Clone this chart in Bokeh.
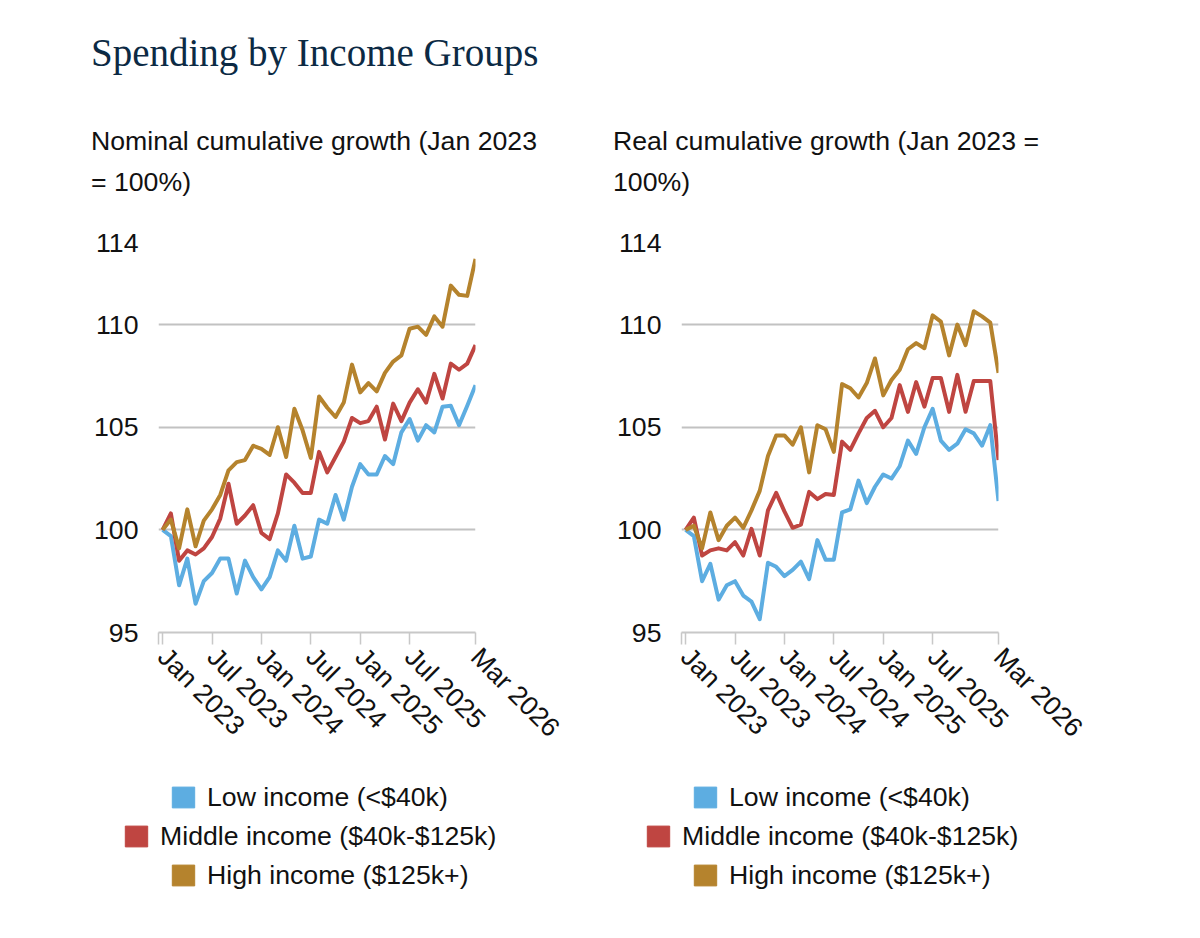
import math
from bokeh.plotting import figure
from bokeh.models import ColumnDataSource, FixedTicker, Legend, LegendItem, Range1d, Title, Spacer
from bokeh.layouts import row, column
from bokeh.embed import file_html
from bokeh.resources import INLINE

# ---------------- data ----------------
x_ticks = [0, 6, 12, 18, 24, 30, 38]
x_tick_labels = ["Jan 2023", "Jul 2023", "Jan 2024", "Jul 2024", "Jan 2025", "Jul 2025", "Mar 2026"]
y_ticks = [95, 100, 105, 110, 114]

series_names = ["Low income (<$40k)", "Middle income ($40k-$125k)", "High income ($125k+)"]
series_colors = ["#5DADE1", "#BF4541", "#B5832D"]

nominal_low = [100.0, 99.7, 97.3, 98.6, 96.4, 97.5, 97.9, 98.6, 98.6, 96.9, 98.5, 97.7, 97.1,
               97.7, 99.0, 98.5, 100.2, 98.6, 98.7, 100.5, 100.3, 101.7, 100.5, 102.1, 103.2,
               102.7, 102.7, 103.6, 103.2, 104.75, 105.4, 104.35, 105.1, 104.75, 106.0, 106.05,
               105.1, 106.05, 107.05]
nominal_mid = [100.0, 100.8, 98.5, 99.0, 98.8, 99.1, 99.65, 100.55, 102.25, 100.3, 100.7, 101.2,
               99.85, 99.55, 100.8, 102.7, 102.3, 101.8, 101.8, 103.8, 102.8, 103.55, 104.3, 105.45,
               105.2, 105.3, 106.0, 104.4, 106.15, 105.3, 106.2, 106.85, 106.2, 107.6, 106.4, 108.1,
               107.8, 108.1, 109.0]
nominal_high = [100.0, 100.5, 99.1, 101.0, 99.2, 100.45, 101.0, 101.7, 102.9, 103.3, 103.4, 104.1,
                103.95, 103.65, 105.0, 103.55, 105.9, 104.85, 103.5, 106.5, 105.95, 105.5, 106.2,
                108.05, 106.7, 107.15, 106.75, 107.65, 108.2, 108.5, 109.8, 109.9, 109.5, 110.4,
                109.9, 111.9, 111.45, 111.4, 113.2]

real_low = [100.0, 99.7, 97.5, 98.35, 96.6, 97.3, 97.5, 96.8, 96.5, 95.65, 98.4, 98.2, 97.75,
            98.05, 98.45, 97.6, 99.5, 98.55, 98.55, 100.85, 101.0, 102.4, 101.3, 102.1, 102.7,
            102.5, 103.1, 104.35, 103.7, 105.0, 105.9, 104.35, 103.9, 104.2, 104.9, 104.7, 104.1,
            105.1, 101.4]
real_mid = [100.0, 100.6, 98.75, 99.0, 99.1, 99.0, 99.4, 98.75, 100.05, 98.75, 100.95, 101.8,
            100.9, 100.1, 100.25, 101.85, 101.5, 101.75, 101.7, 104.3, 103.9, 104.7, 105.45, 105.8,
            105.0, 105.45, 107.05, 105.75, 107.2, 106.0, 107.4, 107.4, 105.75, 107.55, 105.75,
            107.25, 107.25, 107.25, 103.4]
real_high = [100.0, 100.2, 99.1, 100.85, 99.5, 100.2, 100.6, 100.1, 100.95, 101.9, 103.6, 104.6,
             104.6, 104.15, 105.0, 102.8, 105.1, 104.9, 103.8, 107.1, 106.9, 106.45, 107.15,
             108.35, 106.55, 107.3, 107.8, 108.8, 109.1, 108.85, 110.45, 110.15, 108.5, 110.0,
             109.0, 110.65, 110.4, 110.1, 107.65]

title_text = "Spending by Income Groups"
left_sub = ["Nominal cumulative growth (Jan 2023", "= 100%)"]
right_sub = ["Real cumulative growth (Jan 2023 =", "100%)"]

FONT = "Liberation Sans"
TXT = "#111111"


def spacer_title(gap):
    return Title(text=" ", text_font_size="1px", standoff=gap)


def make_panel(sub_lines, values, border_left, border_right, text_offset, with_title):
    n = len(values[0])
    xs = list(range(n))
    p = figure(frame_width=317, frame_height=390,
               min_border_left=border_left, min_border_right=border_right,
               min_border_top=242, min_border_bottom=145,
               x_range=Range1d(-0.5, 38), y_range=Range1d(95, 114),
               output_backend="svg", toolbar_location=None,
               background_fill_color="white", border_fill_color="white",
               outline_line_color=None)

    p.xgrid.visible = False
    p.ygrid.grid_line_color = "#c2c2c2"
    p.ygrid.grid_line_width = 2

    p.yaxis.ticker = FixedTicker(ticks=y_ticks)
    p.yaxis.axis_line_color = None
    p.yaxis.major_tick_line_color = None
    p.yaxis.major_tick_out = 0
    p.yaxis.major_tick_in = 0
    p.yaxis.minor_tick_line_color = None
    p.yaxis.major_label_standoff = 20
    p.yaxis.major_label_text_font = FONT
    p.yaxis.major_label_text_font_size = "20pt"
    p.yaxis.major_label_text_color = TXT

    p.xaxis.ticker = FixedTicker(ticks=[-0.5] + x_ticks)
    overrides = {-0.5: ""}
    for t, lab in zip(x_ticks, x_tick_labels):
        overrides[t] = lab
    p.xaxis.major_label_overrides = overrides
    p.xaxis.major_label_orientation = -math.pi / 4
    p.xaxis.axis_line_color = "#c8c8c8"
    p.xaxis.axis_line_width = 2
    p.xaxis.major_tick_line_color = "#c8c8c8"
    p.xaxis.major_tick_line_width = 1.5
    p.xaxis.major_tick_out = 12
    p.xaxis.major_tick_in = 0
    p.xaxis.minor_tick_line_color = None
    p.xaxis.major_label_standoff = 8
    p.xaxis.major_label_text_font = FONT
    p.xaxis.major_label_text_font_size = "20pt"
    p.xaxis.major_label_text_color = TXT

    for vals, col in zip(values, series_colors):
        src = ColumnDataSource(dict(x=xs, y=vals))
        p.line("x", "y", source=src, line_color=col, line_width=4, line_join="round")

    # header texts, added nearest-to-frame first
    p.add_layout(spacer_title(37.5), "above")
    p.add_layout(Title(text=sub_lines[1], align="left", offset=text_offset, standoff=10,
                       text_font=FONT, text_font_size="20pt", text_font_style="normal",
                       text_color=TXT), "above")
    p.add_layout(Title(text=sub_lines[0], align="left", offset=text_offset, standoff=6.4,
                       text_font=FONT, text_font_size="20pt", text_font_style="normal",
                       text_color=TXT), "above")
    if with_title:
        p.add_layout(spacer_title(42.8), "above")
        p.add_layout(Title(text=title_text, align="left", offset=text_offset, standoff=4,
                           text_font="Liberation Serif", text_font_size="39px",
                           text_font_style="normal", text_color="#0C2A44"), "above")
    return p


nom_vals = [nominal_low, nominal_mid, nominal_high]
real_vals = [real_low, real_mid, real_high]

p1 = make_panel(left_sub, nom_vals, 158, 133, -67.5, True)
p2 = make_panel(right_sub, real_vals, 73, 197, -68.5, False)

# ---------------- legends: one full-width strip below both panels ----------------
LEG_H = 118
legend_fig = figure(width=1200, height=LEG_H, min_border=0,
                    x_range=Range1d(0, 1), y_range=Range1d(0, 1),
                    x_axis_location=None, y_axis_location=None,
                    output_backend="svg", toolbar_location=None,
                    background_fill_color="white", border_fill_color="white",
                    outline_line_color=None)
legend_fig.grid.visible = False

row_left = [169, 122, 169]          # left edge of each legend row, left panel (px)
panel_shift = 522                   # right panel legend is the same block shifted right
row_bottom = [82.5, 43.5, 4.5]      # bottom edge of each row (px from strip bottom)

for vals_set, shift in ((nom_vals, 0), (real_vals, panel_shift)):
    xs = list(range(len(vals_set[0])))
    for k, (name, col, vals) in enumerate(zip(series_names, series_colors, vals_set)):
        # zero-size boxes outside the visible range: they only give the legend its swatch
        r = legend_fig.quad(left=xs, right=xs, bottom=vals, top=vals,
                            fill_color=col, line_color=col)
        leg = Legend(items=[LegendItem(label=name, renderers=[r])],
                     location=(row_left[k] + shift, row_bottom[k]),
                     orientation="horizontal", border_line_color=None,
                     background_fill_alpha=0, glyph_width=28, glyph_height=26,
                     label_standoff=10, label_text_font=FONT, label_text_font_size="20pt",
                     label_text_color=TXT, padding=0, margin=0, spacing=0)
        legend_fig.add_layout(leg)

rule = figure(width=1200, height=2, min_border=0, x_axis_location=None, y_axis_location=None,
              output_backend="svg", toolbar_location=None,
              background_fill_color="#d6d6d6", border_fill_color="#d6d6d6",
              outline_line_color=None)
rule.grid.visible = False

layout = column(row(p1, p2), legend_fig, Spacer(height=39), rule)
open("out.html", "w").write(file_html(layout, INLINE))
